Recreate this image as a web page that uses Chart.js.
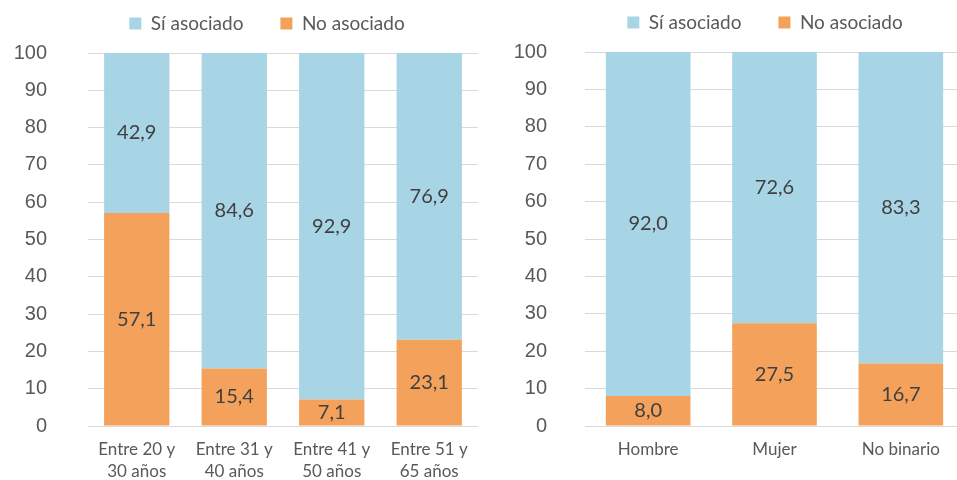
<!DOCTYPE html>
<html>
<head>
<meta charset="utf-8">
<script src="https://cdn.jsdelivr.net/npm/chart.js@4"></script>
<style>
  html, body { margin: 0; padding: 0; background: #fff; overflow: hidden; }
  #wrap { position: relative; width: 957px; height: 480px; overflow: hidden; }
  .box { position: absolute; top: 0; height: 480px; }
  #left { left: 0; width: 480px; }
  #right { left: 480px; width: 486px; }
</style>
</head>
<body>
<div id="wrap">
  <div class="box" id="left"><canvas id="ageChart"></canvas></div>
  <div class="box" id="right"><canvas id="genderChart"></canvas></div>
</div>
<script>
// datos
const ageLabels = [['Entre 20 y', '30 años'], ['Entre 31 y', '40 años'], ['Entre 41 y', '50 años'], ['Entre 51 y', '65 años']]
const ageSi = [42.9, 84.6, 92.9, 76.9]
const ageNo = [57.1, 15.4, 7.1, 23.1]

const genderLabels = ['Hombre', 'Mujer', 'No binario']
const genderSi = [92.0, 72.6, 83.3]
const genderNo = [8.0, 27.5, 16.7]

const yTicks = [0, 10, 20, 30, 40, 50, 60, 70, 80, 90, 100]

const BLUE = '#A8D5E6'
const ORANGE = '#F4A25B'
const TEXT = '#595959'

// etiquetas dentro de las barras
const barLabels = {
  id: 'barLabels',
  afterDatasetsDraw(chart) {
    const ctx = chart.ctx
    ctx.save()
    ctx.font = '20px Lato'
    ctx.fillStyle = '#404040'
    ctx.textAlign = 'center'
    ctx.textBaseline = 'middle'
    chart.data.datasets.forEach((ds, i) => {
      const meta = chart.getDatasetMeta(i)
      meta.data.forEach((bar, j) => {
        const v = ds.data[j]
        const y = (bar.y + bar.base) / 2
        ctx.fillText(v.toFixed(1).replace('.', ','), bar.x, y)
      })
    })
    ctx.restore()
  }
}

// mover la leyenda
const legendShift = {
  id: 'legendShift',
  afterLayout(chart, args, opts) {
    const lg = chart.legend
    if (lg) {
      lg.left += opts.dx
      lg.right += opts.dx
      lg.top += opts.dy
      lg.bottom += opts.dy
    }
  }
}

function makeChart(id, labels, si, no, yWidth, tickPad, dx) {
  const ctx = document.getElementById(id).getContext('2d')
  return new Chart(ctx, {
    type: 'bar',
    data: {
      labels: labels,
      datasets: [
        { label: 'No asociado', data: no, backgroundColor: ORANGE },
        { label: 'Sí asociado', data: si, backgroundColor: BLUE }
      ]
    },
    options: {
      responsive: true,
      maintainAspectRatio: false,
      animation: false,
      layout: { padding: { top: -14, right: 2, bottom: 0, left: 0 } },
      datasets: { bar: { barPercentage: 0.67, categoryPercentage: 1 } },
      plugins: {
        legend: {
          position: 'top',
          reverse: true,
          labels: {
            boxWidth: 12,
            boxHeight: 12,
            padding: 37,
            color: TEXT,
            font: { family: 'Lato', size: 19 }
          }
        },
        tooltip: { enabled: false },
        legendShift: { dx: dx, dy: -10 }
      },
      scales: {
        x: {
          stacked: true,
          grid: { display: false, drawTicks: false },
          border: { display: false },
          ticks: { color: TEXT, font: { family: 'Lato', size: 17, lineHeight: 1.3 }, padding: 12, maxRotation: 0 },
          afterFit: s => { s.height = 54 }
        },
        y: {
          stacked: true,
          min: 0,
          max: 100,
          afterBuildTicks: s => { s.ticks = yTicks.map(v => ({ value: v })) },
          grid: { color: '#D9D9D9', drawTicks: false },
          border: { display: false },
          ticks: { color: TEXT, font: { family: 'Liberation Sans', size: 20 }, padding: tickPad },
          afterFit: s => { s.width = yWidth }
        }
      }
    },
    plugins: [barLabels, legendShift]
  })
}

makeChart('ageChart', ageLabels, ageSi, ageNo, 88, 41, 28)
makeChart('genderChart', genderLabels, genderSi, genderNo, 105, 38, 43)
</script>
</body>
</html>
